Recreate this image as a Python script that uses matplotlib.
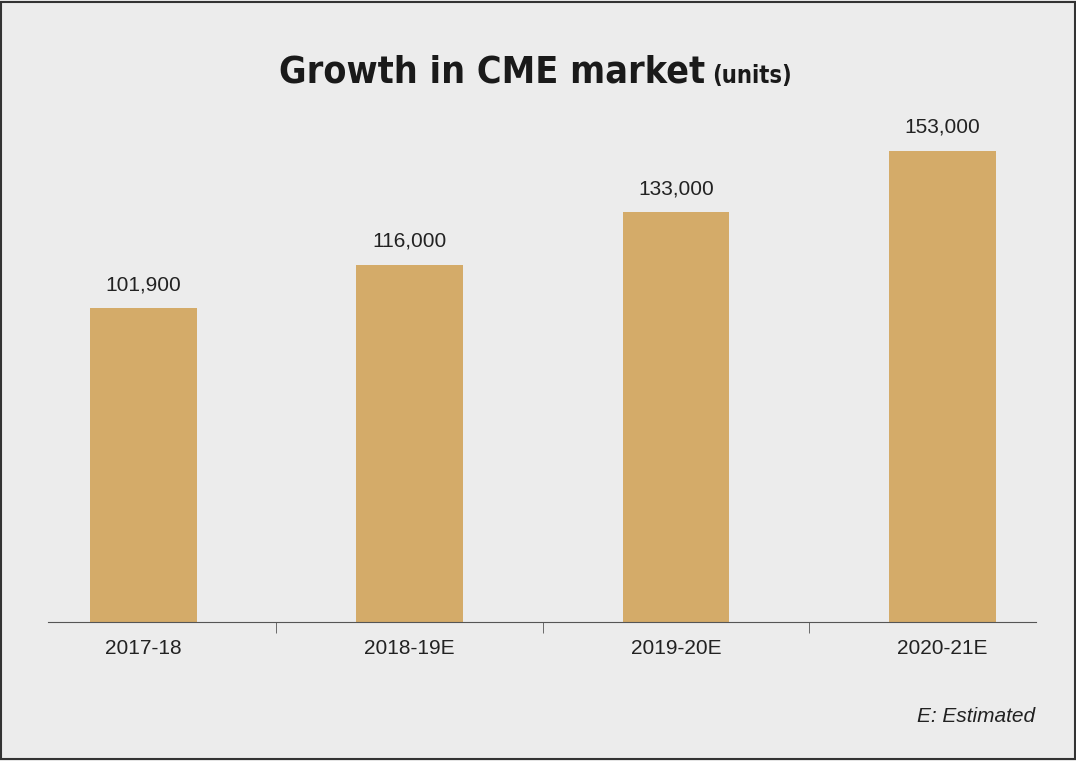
import matplotlib.pyplot as plt

years = ["2017-18", "2018-19E", "2019-20E", "2020-21E"]
units = [101900, 116000, 133000, 153000]
labels = ["101,900", "116,000", "133,000", "153,000"]

bg = "#ececec"
fig = plt.figure(figsize=(10.76, 7.61), dpi=100, facecolor=bg)
ax = fig.add_axes([0.0446, 0.1827, 0.918, 0.688], facecolor=bg)

x = range(len(years))
ax.bar(x, units, width=0.40, color="#d4ab69")
for i, v in enumerate(units):
    ax.text(i, v + 4500, labels[i], ha="center", va="bottom", fontsize=15,
            family="Liberation Sans", color="#222222")

ax.set_xlim(-0.358, 3.351)
ax.set_ylim(0, 170000)
for s in ["top", "right", "left"]:
    ax.spines[s].set_visible(False)
ax.spines["bottom"].set_color("#555555")
ax.set_yticks([])
ax.set_xticks(list(x))
ax.set_xticklabels(years, fontsize=15, family="Liberation Sans", color="#222222")
ax.tick_params(axis="x", which="major", length=0, pad=12)
ax.set_xticks([0.5, 1.5, 2.5], minor=True)
ax.tick_params(axis="x", which="minor", length=8, color="#555555")

fig.text(0.655, 0.905, "Growth in CME market", ha="right", va="center", fontsize=27,
         fontweight="bold", family="DejaVu Sans", stretch="condensed", color="#1a1a1a")
fig.text(0.662, 0.9, "(units)", ha="left", va="center", fontsize=17,
         fontweight="bold", family="DejaVu Sans", stretch="condensed", color="#1a1a1a")
fig.text(0.962, 0.058, "E: Estimated", ha="right", va="center", fontsize=15,
         style="italic", family="Liberation Sans", color="#222222")

fig.patches.append(plt.Rectangle((0.001, 0.002), 0.998, 0.996, transform=fig.transFigure,
                                 fill=False, edgecolor="#333333", linewidth=1.5))
fig.savefig("out.png", dpi=100, facecolor=bg)
